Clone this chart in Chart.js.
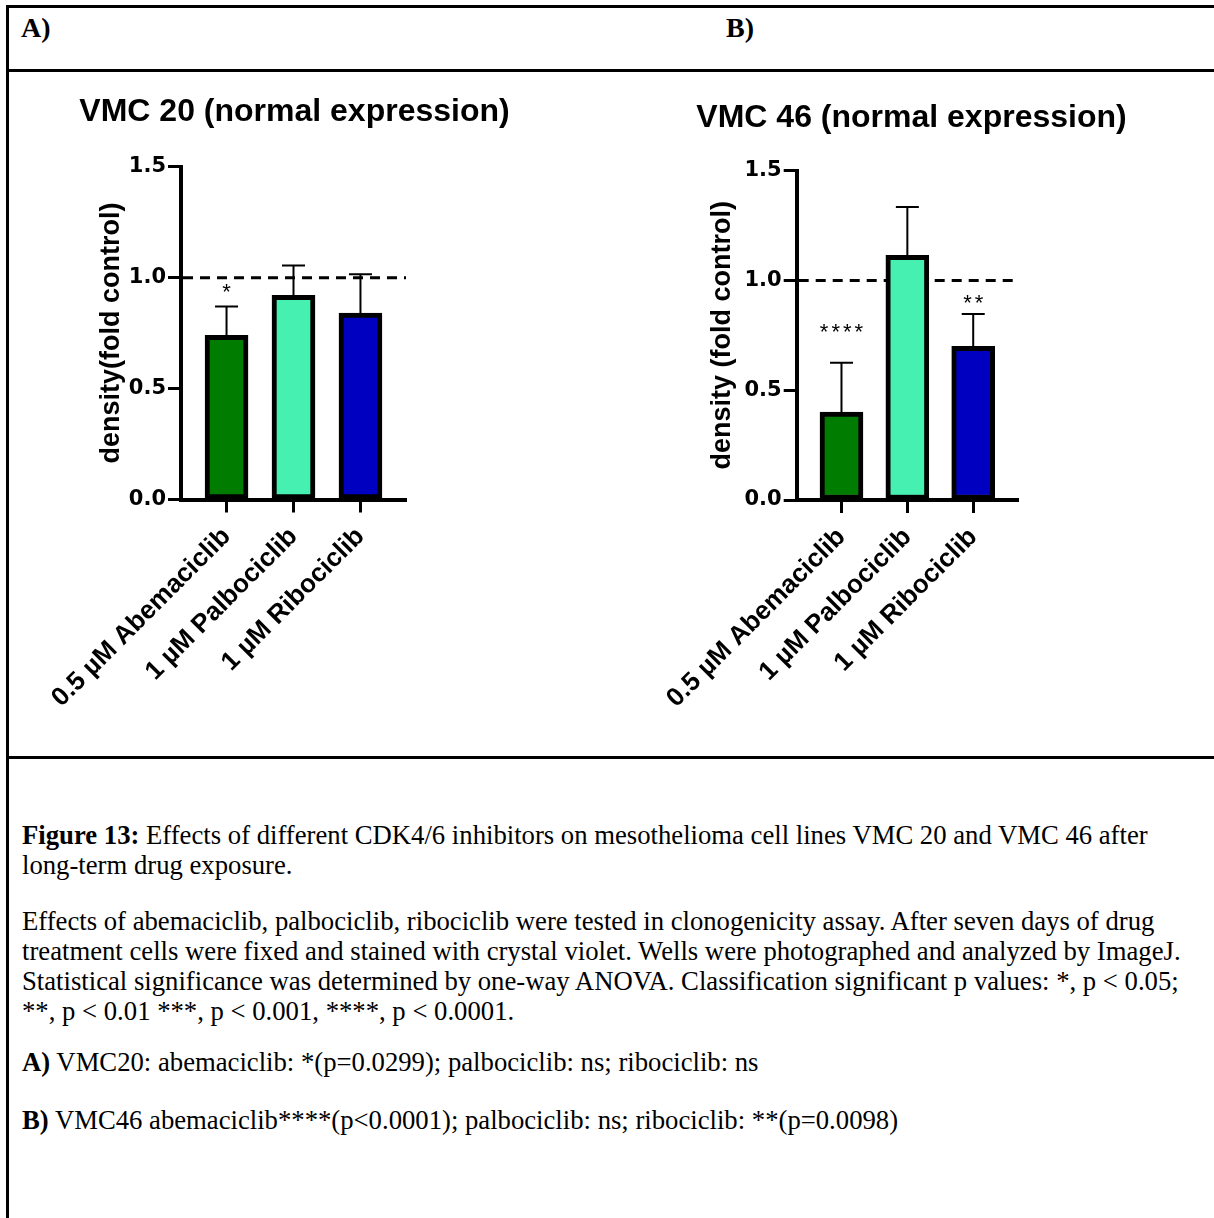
<!DOCTYPE html>
<html>
<head>
<meta charset="utf-8">
<script src="https://cdn.jsdelivr.net/npm/chart.js"></script>
<style>
  body { margin: 0; background: #fff; }
  #page { position: relative; width: 1214px; height: 1218px; overflow: hidden; background: #fff; }
  .rule { position: absolute; background: #000; }
  .panel { position: absolute; font-family: "Liberation Serif", "Times New Roman", serif; font-weight: bold; font-size: 28px; line-height: 28px; }
  .txt { position: absolute; left: 22px; font-family: "Liberation Serif", "Times New Roman", serif; font-size: 26.7px; line-height: 30px; white-space: nowrap; color: #000; }
  canvas { position: absolute; }
</style>
</head>
<body>
<div id="page">
  <div class="rule" style="left:6px; top:5px; width:1208px; height:3px;"></div>
  <div class="rule" style="left:6px; top:5px; width:3px; height:1213px;"></div>
  <div class="rule" style="left:6px; top:69px; width:1208px; height:3px;"></div>
  <div class="rule" style="left:6px; top:756px; width:1208px; height:3px;"></div>

  <div class="panel" style="left:21px; top:14px;">A)</div>
  <div class="panel" style="left:726px; top:14px;">B)</div>

  <canvas id="chartA" width="590" height="684" style="left:8px; top:72px;"></canvas>
  <canvas id="chartB" width="590" height="684" style="left:620px; top:72px;"></canvas>

  <div class="txt" style="top:820px;"><b>Figure 13:</b> Effects of different CDK4/6 inhibitors on mesothelioma cell lines VMC 20 and VMC 46 after<br>long-term drug exposure.</div>
  <div class="txt" style="top:906px;">Effects of abemaciclib, palbociclib, ribociclib were tested in clonogenicity assay. After seven days of drug<br>treatment cells were fixed and stained with crystal violet. Wells were photographed and analyzed by ImageJ.<br>Statistical significance was determined by one-way ANOVA. Classification significant p values: *, p &lt; 0.05;<br>**, p &lt; 0.01 ***, p &lt; 0.001, ****, p &lt; 0.0001.</div>
  <div class="txt" style="top:1047px;"><b>A)</b> VMC20: abemaciclib: *(p=0.0299); palbociclib: ns; ribociclib: ns</div>
  <div class="txt" style="top:1105px;"><b>B)</b> VMC46 abemaciclib****(p&lt;0.0001); palbociclib: ns; ribociclib: **(p=0.0098)</div>
</div>

<script>
// categories on the x axis
const categories = ['0.5 µM Abemaciclib', '1 µM Palbociclib', '1 µM Ribociclib'];

// VMC 20: mean and SD (fold control)
const vmc20Mean = [0.74, 0.92, 0.84];
const vmc20Sd = [0.13, 0.135, 0.175];
const vmc20Sig = ['*', '', ''];

// VMC 46: mean and SD (fold control)
const vmc46Mean = [0.40, 1.115, 0.70];
const vmc46Sd = [0.225, 0.22, 0.147];
const vmc46Sig = ['****', '', '**'];

// y axis ticks and control level
const yTickValues = [0, 0.5, 1.0, 1.5];
const controlLevel = 1.0;

const barColors = ['rgb(0,125,0)', 'rgb(69,240,176)', 'rgb(0,0,192)'];
const sansFamily = '"Liberation Sans", Arial, sans-serif';

function makeChart(canvasId, title, yTitle, mean, sd, sig, sigGap, box) {
    // title, dashed control line, error bars and significance stars
    const extras = {
        id: 'extras',
        beforeDatasetsDraw(chart) {
            const {ctx, chartArea, scales: {y}} = chart;
            const py = y.getPixelForValue(controlLevel);
            ctx.save();
            ctx.setLineDash([10, 7]);
            ctx.lineWidth = 3;
            ctx.strokeStyle = '#000';
            ctx.beginPath();
            ctx.moveTo(chartArea.left + 2, py);
            ctx.lineTo(chartArea.right, py);
            ctx.stroke();
            ctx.restore();
        },
        afterDatasetsDraw(chart) {
            const {ctx, scales: {y}} = chart;
            const bars = chart.getDatasetMeta(0).data;
            ctx.save();
            ctx.strokeStyle = '#000';
            ctx.fillStyle = '#000';
            ctx.lineWidth = 2;
            bars.forEach((bar, i) => {
                const top = y.getPixelForValue(mean[i] + sd[i]);
                ctx.beginPath();
                ctx.moveTo(bar.x, bar.y + 3);
                ctx.lineTo(bar.x, top);
                ctx.moveTo(bar.x - 11.5, top);
                ctx.lineTo(bar.x + 11.5, top);
                ctx.stroke();
                if (sig[i]) {
                    ctx.font = '22px ' + sansFamily;
                    ctx.letterSpacing = '3px';
                    const w = ctx.measureText(sig[i]).width - 3;
                    ctx.fillText(sig[i], bar.x - w / 2, top - sigGap[i] + 12.5);
                }
            });
            ctx.restore();
        },
        afterDraw(chart) {
            const ctx = chart.ctx;
            ctx.save();
            ctx.font = 'bold 32px ' + sansFamily;
            ctx.fillStyle = '#000';
            ctx.textAlign = 'center';
            ctx.textBaseline = 'middle';
            ctx.fillText(title, box.titleX, box.titleY);
            ctx.restore();
        }
    };

    const ctx = document.getElementById(canvasId).getContext('2d');
    return new Chart(ctx, {
        type: 'bar',
        data: {
            datasets: [{
                data: mean.map((v, i) => ({x: i, y: v})),
                backgroundColor: barColors,
                borderColor: '#000',
                borderWidth: 5,
                borderSkipped: false,
                barThickness: 43
            }]
        },
        options: {
            responsive: false,
            animation: false,
            devicePixelRatio: 1,
            layout: {
                padding: {left: 80, right: box.padRight, top: box.padTop, bottom: 0}
            },
            plugins: {
                legend: {display: false},
                tooltip: {enabled: false},
                title: {display: false}
            },
            scales: {
                x: {
                    type: 'linear',
                    offset: false,
                    min: -0.68,
                    max: 2.68,
                    afterBuildTicks: s => { s.ticks = categories.map((c, i) => ({value: i})); },
                    afterFit: s => { s.height = box.xHeight; },
                    ticks: {
                        callback: v => categories[v],
                        autoSkip: false,
                        minRotation: 45,
                        maxRotation: 45,
                        padding: 9,
                        color: '#000',
                        font: {family: sansFamily, size: 26, weight: 'bold'}
                    },
                    grid: {offset: false, drawOnChartArea: false, tickLength: 13, tickWidth: 3, tickColor: '#000'},
                    border: {color: '#000', width: 4}
                },
                y: {
                    min: 0,
                    max: 1.5,
                    afterBuildTicks: s => { s.ticks = yTickValues.map(v => ({value: v})); },
                    afterFit: s => { s.width = box.yWidth; },
                    ticks: {
                        callback: v => v.toFixed(1),
                        padding: 2,
                        color: '#000',
                        font: {family: '"DejaVu Sans", sans-serif', size: 21, weight: 'bold'}
                    },
                    grid: {drawOnChartArea: false, tickLength: 13, tickWidth: 3, tickColor: '#000'},
                    border: {color: '#000', width: 4},
                    title: {
                        display: true,
                        text: yTitle,
                        color: '#000',
                        font: {family: sansFamily, size: 27, weight: 'bold'},
                        padding: {top: box.yTitlePad, bottom: 0}
                    }
                }
            }
        },
        plugins: [extras]
    });
}

document.addEventListener("DOMContentLoaded", function() {
    makeChart('chartA', 'VMC 20 (normal expression)', 'density(fold control)',
        vmc20Mean, vmc20Sd, vmc20Sig, [20, 0, 0],
        {padRight: 192, padTop: 94.7, titleX: 286.5, titleY: 40.5, xHeight: 256.5, yWidth: 93, yTitlePad: 7});

    makeChart('chartB', 'VMC 46 (normal expression)', 'density (fold control)',
        vmc46Mean, vmc46Sd, vmc46Sig, [36, 0, 17],
        {padRight: 192, padTop: 98.7, titleX: 291.5, titleY: 46, xHeight: 256, yWidth: 96.7, yTitlePad: 6});
});
</script>
</body>
</html>
